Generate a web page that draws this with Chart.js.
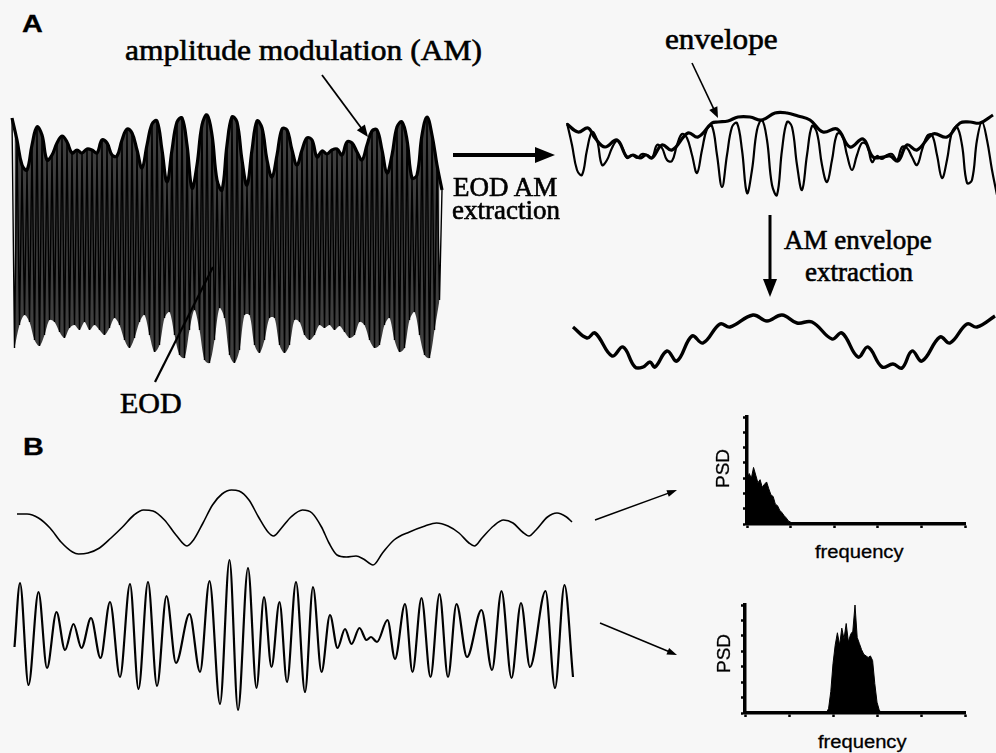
<!DOCTYPE html>
<html>
<head>
<meta charset="utf-8">
<script src="https://cdn.jsdelivr.net/npm/chart.js@4.4.1/dist/chart.umd.min.js"></script>
<style>
  html, body { margin: 0; padding: 0; background: #f7f7f7; }
  #fig { position: relative; width: 996px; height: 753px; overflow: hidden; }
  canvas { position: absolute; }
  .t { position: absolute; white-space: nowrap; line-height: 1; color: #000; transform-origin: 0 0; }
  .serif { font-family: "Liberation Serif", "Times New Roman", serif; -webkit-text-stroke: 0.6px #000; }
  .sans { font-family: "Liberation Sans", Arial, sans-serif; -webkit-text-stroke: 0.3px #000; }
  .rot { transform-origin: 50% 50%; }
  #arrows { position: absolute; left: 0; top: 0; }
</style>
</head>
<body>
<div id="fig">
  <canvas id="eodChart" width="450" height="280" style="left:2px;top:100px"></canvas>
  <canvas id="amChart" width="439" height="120" style="left:557px;top:100px"></canvas>
  <canvas id="envChart" width="439" height="80" style="left:557px;top:300px"></canvas>
  <canvas id="bChart" width="580" height="260" style="left:2px;top:470px"></canvas>
  <canvas id="psdAmChart" width="248" height="130" style="left:727px;top:405px"></canvas>
  <canvas id="psdEodChart" width="250" height="131" style="left:725px;top:593px"></canvas>

  <div class="t sans" style="left:22px;top:12px;font-size:24px;font-weight:bold;transform:scaleX(1.2)">A</div>
  <div class="t sans" style="left:23px;top:435px;font-size:24px;font-weight:bold;transform:scaleX(1.2)">B</div>
  <div class="t serif" style="left:125px;top:35px;font-size:30px;transform:scaleX(1.05)">amplitude modulation (AM)</div>
  <div class="t serif" style="left:665px;top:24px;font-size:30px;transform:scaleX(1.04)">envelope</div>
  <div class="t serif" style="left:120px;top:388px;font-size:30px">EOD</div>
  <div class="t serif" style="left:453px;top:174px;font-size:27px">EOD AM</div>
  <div class="t serif" style="left:452px;top:197px;font-size:27px">extraction</div>
  <div class="t serif" style="left:784px;top:227px;font-size:27px">AM envelope</div>
  <div class="t serif" style="left:805px;top:259px;font-size:27px">extraction</div>
  <div class="t sans" style="left:815px;top:543px;font-size:18px;transform:scaleX(1.12)">frequency</div>
  <div class="t sans" style="left:818px;top:733px;font-size:18px;transform:scaleX(1.12)">frequency</div>
  <div class="t sans rot" id="psd1" style="font-size:19px">PSD</div>
  <div class="t sans rot" id="psd2" style="font-size:19px">PSD</div>

  <svg id="arrows" width="996" height="753"></svg>
</div>

<script>
// EOD carrier: peak and trough of each cycle (arbitrary amplitude units)
const eodPeaks = [
  1.22, 1.00, 0.75, 0.70, 0.95, 1.13, 1.05, 0.80, 0.85, 0.97,
  1.04, 0.98, 0.87, 0.90, 0.87, 0.91, 0.90, 0.87, 1.00, 0.97,
  0.85, 0.84, 1.00, 1.11, 1.07, 0.90, 0.72, 0.95, 1.16, 1.19,
  0.90, 0.58, 0.90, 1.18, 1.22, 0.95, 0.52, 0.75, 1.15, 1.25,
  1.05, 0.60, 0.50, 0.95, 1.23, 1.18, 0.80, 0.55, 0.90, 1.19,
  1.12, 0.80, 0.63, 0.85, 1.11, 1.10, 0.90, 0.75, 0.90, 1.02,
  1.00, 0.83, 0.89, 0.86, 0.90, 0.91, 0.85, 0.98, 0.97, 0.88,
  0.80, 0.95, 1.09, 1.10, 0.90, 0.67, 0.85, 1.13, 1.18, 1.00,
  0.62, 0.65, 1.05, 1.23, 1.05, 0.75, 0.50
];
const eodTroughs = [
  -1.08, -0.85, -0.75, -0.82, -1.00, -1.06, -0.95, -0.80, -0.82, -0.92,
  -0.98, -0.88, -0.85, -0.90, -0.82, -0.90, -0.85, -0.90, -0.95, -0.88,
  -0.78, -0.85, -1.00, -1.08, -0.98, -0.82, -0.75, -0.95, -1.12, -1.05,
  -0.78, -0.72, -0.95, -1.15, -1.18, -0.90, -0.70, -0.90, -1.20, -1.23,
  -1.00, -0.68, -0.78, -1.15, -1.23, -1.10, -0.75, -0.75, -1.05, -1.13,
  -1.00, -0.78, -0.78, -1.05, -1.13, -1.05, -0.80, -0.82, -0.95, -1.00,
  -0.95, -0.85, -0.88, -0.85, -0.90, -0.86, -0.92, -0.98, -0.95, -0.82,
  -0.85, -1.00, -1.08, -1.05, -0.85, -0.78, -1.00, -1.12, -1.08, -0.80,
  -0.72, -0.95, -1.15, -1.18, -0.90, -0.60
];

// envelope of the extracted AM
const envTime = [0, 2.2, 4.2, 5.6, 7.6, 10, 12, 13.2, 14.6, 15.8,
  17, 19, 21, 24.2, 26.2, 29, 30.2, 32.2, 34.2, 36.6,
  39, 41.6, 44, 46.2, 48.6, 51.2, 54, 56.6, 59.2, 61.2,
  63.2, 64.6, 66.2, 68, 70, 73.2, 76, 78.6, 80.6, 82.6, 85.2];
const envelope = [1.21, 1.13, 1.17, 1.07, 0.98, 1.05, 0.88, 0.90, 0.87, 0.90,
  0.87, 1.00, 0.95, 1.12, 1.08, 1.22, 1.23, 1.24, 1.28, 1.28,
  1.25, 1.32, 1.32, 1.29, 1.25, 1.13, 1.16, 0.98, 1.06, 0.88,
  0.88, 0.89, 0.84, 1.00, 0.95, 1.11, 1.08, 1.22, 1.23, 1.22, 1.30];

// extracted AM envelope (lower right trace)
const env2Time = [1.2, 4, 5.6, 9, 11.2, 13.6, 15.2, 16.6, 17.6, 20,
  22, 25, 27.2, 30.6, 32.6, 37.2, 40, 43, 46, 49,
  53, 55, 58.2, 60.2, 63, 65.2, 67, 69, 71, 74.6,
  76.6, 80, 82, 85.6];
const env2 = [0.53, 0.42, 0.47, 0.24, 0.33, 0.13, 0.13, 0.18, 0.13, 0.29,
  0.19, 0.44, 0.37, 0.56, 0.53, 0.65, 0.59, 0.65, 0.57, 0.58,
  0.41, 0.47, 0.23, 0.33, 0.13, 0.16, 0.12, 0.29, 0.19, 0.43,
  0.37, 0.56, 0.53, 0.64];

// panel B, slow (envelope) trace
const bSlowTime = [1.0, 3.0, 5.3, 7.6, 9.8, 12.1, 13.3, 15.2, 17.5, 19.8,
  22.1, 24.4, 26.3, 28.2, 30.5, 32.8, 35.0, 36.3, 38.2, 40.1,
  42.0, 43.9, 45.4, 47.4, 49.3, 51.2, 52.3, 53.9, 55.8, 58.1,
  60.0, 61.9, 63.4, 65.0, 66.9, 68.8, 70.3, 72.2, 74.1, 76.4,
  79.5, 82.6, 84.9, 87.2, 89.4, 91.4, 92.5, 94.0, 96.3, 98.3,
  100.2, 102.1, 103.4, 104.8, 107.1, 109.0, 110.9, 112.0];
const bSlow = [0.46, 0.46, 0.42, 0.32, 0.18, 0.08, 0.06, 0.07, 0.12, 0.22,
  0.33, 0.45, 0.50, 0.49, 0.40, 0.25, 0.14, 0.20, 0.37, 0.55,
  0.66, 0.70, 0.69, 0.60, 0.43, 0.28, 0.24, 0.32, 0.43, 0.50,
  0.47, 0.33, 0.17, 0.05, 0.03, 0.04, 0.01, -0.05, 0.07, 0.20,
  0.28, 0.34, 0.37, 0.34, 0.27, 0.17, 0.14, 0.22, 0.34, 0.40,
  0.37, 0.28, 0.24, 0.30, 0.43, 0.47, 0.43, 0.38];

// panel B, AM trace (peaks and troughs)
const bFastTime = [0.5, 1.6, 3.3, 5.3, 7.0, 8.9, 10.6, 12.3, 13.9, 15.8,
  17.7, 19.6, 21.6, 23.6, 25.3, 27.2, 29.0, 30.9, 32.8, 35.5,
  37.6, 39.5, 41.6, 43.5, 45.2, 47.2, 48.9, 50.4, 51.9, 53.5,
  55.0, 56.8, 58.6, 60.2, 61.9, 63.6, 65.1, 66.6, 67.9, 69.5,
  70.9, 71.8, 73.0, 75.1, 76.6, 78.6, 80.1, 81.9, 83.7, 85.5,
  87.2, 88.9, 91.0, 93.9, 96.0, 97.9, 99.9, 101.8, 103.6, 106.7,
  108.6, 110.5, 112.2];
const bFast = [-0.12, 0.52, -0.50, 0.43, -0.33, 0.23, -0.15, 0.11, -0.13, 0.17,
  -0.23, 0.33, -0.42, 0.51, -0.54, 0.53, -0.51, 0.39, -0.28, 0.21,
  -0.37, 0.54, -0.69, 0.75, -0.75, 0.67, -0.53, 0.38, -0.32, 0.33,
  -0.47, 0.53, -0.57, 0.48, -0.37, 0.20, -0.13, 0.06, -0.09, 0.07,
  -0.05, -0.02, -0.07, 0.15, -0.24, 0.31, -0.37, 0.37, -0.42, 0.41,
  -0.42, 0.31, -0.22, 0.25, -0.35, 0.44, -0.43, 0.32, -0.32, 0.44,
  -0.53, 0.50, -0.42];

// power spectra
const psdAmFreq = [0, 1, 2, 3, 4, 5, 6, 7, 8, 9, 10, 11, 12, 13, 14, 15, 16, 17, 18, 19, 20, 21, 22];
const psdAm = [2.9, 3.3, 3.0, 3.7, 3.2, 2.7, 2.9, 2.4, 2.6, 2.75, 2.3, 1.9, 1.8, 1.3, 1.2, 0.9, 0.75, 0.55, 0.4, 0.2, 0.12, 0.05, 0];
const psdEodFreq = [37, 38, 39, 40, 41, 42, 43, 44, 45, 46, 47, 48, 49, 50, 51, 52, 53, 54, 55, 56, 57, 58, 59, 60, 61, 62];
const psdEod = [0, 0.3, 1.4, 3.2, 4.4, 5.2, 4.4, 5.5, 4.8, 5.8, 4.6, 5.1, 5.3, 7.0, 4.9, 4.5, 4.1, 3.8, 3.7, 3.6, 3.7, 3.4, 1.9, 0.7, 0.2, 0];
const freqTicks = [0, 20, 40, 60, 80, 100];

Chart.defaults.animation = false;
Chart.defaults.plugins.legend.display = false;
Chart.defaults.plugins.tooltip.enabled = false;
Chart.defaults.elements.point.radius = 0;

const pts = (xs, ys) => ys.map((y, i) => ({ x: xs[i], y: y }));

// zig-zag carrier built from the cycle peaks / troughs
const carrier = [];
eodPeaks.forEach((v, i) => {
  carrier.push({ x: i, y: v });
  if (i < eodTroughs.length) carrier.push({ x: i + 0.5, y: eodTroughs[i] });
});
const peakPts = eodPeaks.map((v, i) => ({ x: i, y: v }));
const troughPts = eodTroughs.map((v, i) => ({ x: i + 0.5, y: v }));

const hidden = (min, max) => ({ type: 'linear', display: false, min: min, max: max });

function traceChart(id, datasets, scales) {
  return new Chart(document.getElementById(id), {
    type: 'line',
    data: { datasets: datasets },
    options: {
      responsive: false,
      devicePixelRatio: 1,
      layout: { padding: 0 },
      scales: scales
    }
  });
}

traceChart('eodChart', [
  { data: peakPts, borderColor: '#000', borderWidth: 3.2, tension: 0.4, fill: false },
  { data: carrier, borderColor: '#000', borderWidth: 1.4, tension: 0, fill: false },
  { data: troughPts, borderColor: 'rgba(0,0,0,0)', borderWidth: 0, tension: 0.3,
    fill: '-2', backgroundColor: '#3e3e3e' }
], { x: hidden(-2, 88), y: hidden(-1.4, 1.4) });

traceChart('amChart', [
  { data: pts(envTime, envelope), borderColor: '#000', borderWidth: 3.2, tension: 0.4, fill: false },
  { data: peakPts, borderColor: '#000', borderWidth: 2.2, tension: 0.4, fill: false }
], { x: hidden(-2, 85.8), y: hidden(0.25, 1.45) });

traceChart('envChart', [
  { data: pts(env2Time, env2), borderColor: '#000', borderWidth: 3.4, tension: 0.4, fill: false }
], { x: hidden(-2, 85.8), y: hidden(0, 0.8) });

traceChart('bChart', [
  { data: pts(bSlowTime, bSlow), yAxisID: 'yA', borderColor: '#000', borderWidth: 1.6,
    cubicInterpolationMode: 'monotone', fill: false },
  { data: pts(bFastTime, bFast), yAxisID: 'yB', borderColor: '#000', borderWidth: 2.2,
    cubicInterpolationMode: 'monotone', fill: false }
], { x: hidden(-2, 114), yA: hidden(-1.7, 0.9), yB: hidden(-0.95, 1.65) });

function psdChart(id, freq, power) {
  const axisGrid = { display: true, drawOnChartArea: false, drawTicks: true, tickLength: 4,
    tickWidth: 2.5, tickColor: '#000', color: '#000' };
  return new Chart(document.getElementById(id), {
    type: 'line',
    data: { datasets: [{ data: pts(freq, power), borderColor: '#000', borderWidth: 1,
      backgroundColor: '#000', fill: 'origin', tension: 0 }] },
    options: {
      responsive: false,
      devicePixelRatio: 1,
      layout: { padding: { left: 0, top: 12, right: 10, bottom: 0 } },
      scales: {
        x: { type: 'linear', min: freqTicks[0], max: freqTicks[freqTicks.length - 1],
          afterBuildTicks: s => { s.ticks = freqTicks.map(v => ({ value: v })); },
          afterFit: s => { s.height = 11; },
          ticks: { display: false }, grid: axisGrid,
          border: { display: true, width: 3.5, color: '#000' } },
        y: { type: 'linear', min: 0, max: 7,
          afterFit: s => { s.width = 20; },
          ticks: { display: false, stepSize: 1 }, grid: axisGrid,
          border: { display: true, width: 3.5, color: '#000' } }
      }
    }
  });
}
psdChart('psdAmChart', psdAmFreq, psdAm);
psdChart('psdEodChart', psdEodFreq, psdEod);

// rotated PSD labels, centred on a point
function placeRotated(id, cx, cy) {
  const el = document.getElementById(id);
  el.style.left = (cx - el.offsetWidth / 2) + 'px';
  el.style.top = (cy - el.offsetHeight / 2) + 'px';
  el.style.transform = 'rotate(-90deg)';
}
placeRotated('psd1', 722, 468);
placeRotated('psd2', 723, 653);

// annotation arrows
const svg = document.getElementById('arrows');
const NS = 'http://www.w3.org/2000/svg';
function arrow(x1, y1, x2, y2, w, hl, hw) {
  const dx = x2 - x1, dy = y2 - y1, len = Math.hypot(dx, dy);
  const ux = dx / len, uy = dy / len;
  const bx = x2 - ux * hl, by = y2 - uy * hl;
  const line = document.createElementNS(NS, 'line');
  line.setAttribute('x1', x1); line.setAttribute('y1', y1);
  line.setAttribute('x2', hl ? bx + ux : x2); line.setAttribute('y2', hl ? by + uy : y2);
  line.setAttribute('stroke', '#000'); line.setAttribute('stroke-width', w);
  svg.appendChild(line);
  if (!hl) return;
  const head = document.createElementNS(NS, 'polygon');
  head.setAttribute('points', [
    [x2, y2], [bx - uy * hw, by + ux * hw], [bx + uy * hw, by - ux * hw]
  ].map(p => p.join(',')).join(' '));
  head.setAttribute('fill', '#000');
  svg.appendChild(head);
}
arrow(322, 75, 368, 137, 1.8, 12, 5);
arrow(155, 382, 213, 267, 2.2, 0, 0);
arrow(453, 155, 555, 155, 4, 20, 8);
arrow(692, 63, 718, 118, 1.6, 11, 4.5);
arrow(770, 215, 770, 297, 3, 18, 7);
arrow(595, 520, 677, 490, 1.5, 10, 3.5);
arrow(600, 623, 677, 655, 1.5, 10, 3.5);
</script>
</body>
</html>
